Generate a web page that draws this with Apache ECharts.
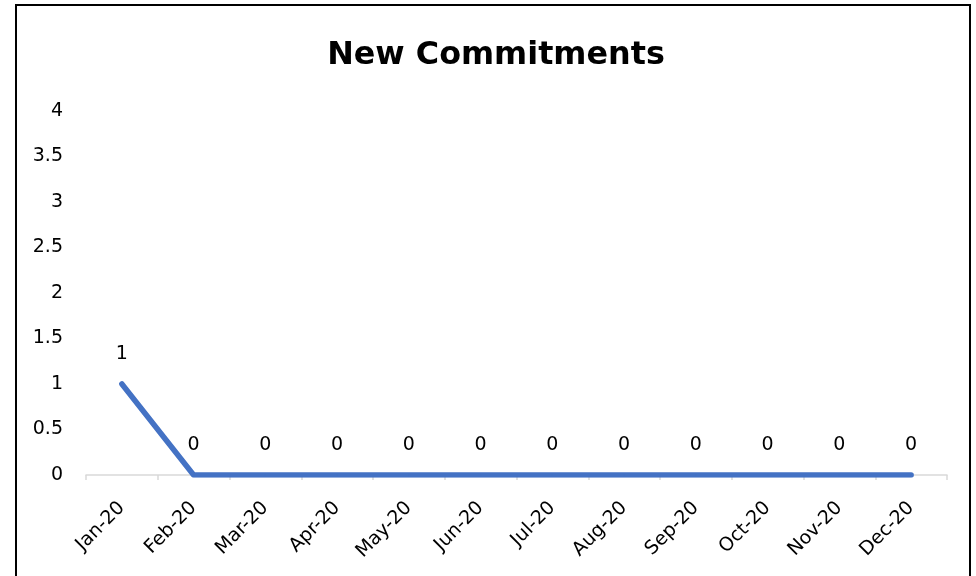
<!DOCTYPE html>
<html>
<head>
<meta charset="utf-8">
<title>New Commitments</title>
<script src="https://cdn.jsdelivr.net/npm/echarts@6/dist/echarts.min.js"></script>
<style>
	html, body { margin: 0; padding: 0; background: #fff; }
	#graph { width: 976px; height: 576px; }
</style>
</head>
<body>
<div id="graph"></div>
<script>
var months = ['Jan-20', 'Feb-20', 'Mar-20', 'Apr-20', 'May-20', 'Jun-20', 'Jul-20', 'Aug-20', 'Sep-20', 'Oct-20', 'Nov-20', 'Dec-20'];
var commitments = [1, 0, 0, 0, 0, 0, 0, 0, 0, 0, 0, 0];
var yTicks = [0, 0.5, 1, 1.5, 2, 2.5, 3, 3.5, 4];

function graphRender() {
	var myChart = echarts.init(document.getElementById('graph'));
	var font = 'DejaVu Sans';

	var options = {
		animation: false,
		title: {
			text: 'New Commitments',
			left: 491,
			top: 35,
			textAlign: 'center',
			textStyle: {
				fontFamily: font,
				fontWeight: 'bold',
				fontSize: 31.8,
				color: '#000'
			}
		},
		graphic: [{
			type: 'rect',
			shape: { x: 16, y: 5, width: 954, height: 620 },
			style: { fill: 'none', stroke: '#000', lineWidth: 2 },
			z: 100
		}],
		grid: {
			left: 86,
			right: 29,
			top: 111,
			bottom: 101
		},
		xAxis: {
			type: 'category',
			data: months,
			boundaryGap: true,
			axisLine: { lineStyle: { color: '#d9d9d9', width: 1.5 } },
			axisTick: { show: true, length: 5, lineStyle: { color: '#d9d9d9', width: 1.5 } },
			axisLabel: {
				interval: 0,
				rotate: 45,
				margin: 30,
				fontFamily: font,
				fontSize: 19,
				color: '#000'
			}
		},
		yAxis: {
			type: 'value',
			min: yTicks[0],
			max: yTicks[yTicks.length - 1],
			interval: 0.5,
			axisLine: { show: false },
			axisTick: { show: false },
			splitLine: { show: false },
			axisLabel: {
				margin: 23,
				fontFamily: font,
				fontSize: 19,
				color: '#000'
			}
		},
		series: [{
			type: 'line',
			data: commitments,
			symbol: 'circle',
			symbolSize: 1,
			itemStyle: { color: '#4472c4' },
			lineStyle: { color: '#4472c4', width: 5.5, cap: 'round', join: 'round' },
			label: {
				show: true,
				position: 'top',
				distance: 20,
				fontFamily: font,
				fontSize: 19,
				color: '#000'
			}
		}]
	};

	myChart.setOption(options);
}
graphRender();
</script>
</body>
</html>
